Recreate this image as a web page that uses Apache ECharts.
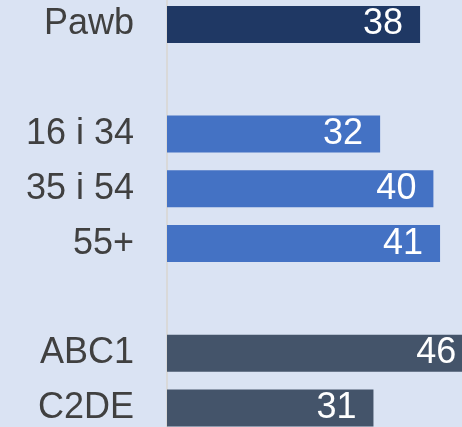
<!DOCTYPE html>
<html>
<head>
<meta charset="utf-8">
<script src="https://cdn.jsdelivr.net/npm/echarts@6/dist/echarts.min.js"></script>
<style>
  html, body { margin: 0; padding: 0; background: #dae3f3; }
  #chart { width: 462px; height: 427px; }
</style>
</head>
<body>
<div id="chart"></div>
<script>
const categories = ['Pawb', '', '16 i 34', '35 i 54', '55+', '', 'ABC1', 'C2DE'];
const values = [38, null, 32, 40, 41, null, 46, 31];
const barColors = ['#1f3864', null, '#4472c4', '#4472c4', '#4472c4', null, '#44546a', '#44546a'];

const chart = echarts.init(document.getElementById('chart'));

// grid runs past the canvas on purpose so the 46 bar is cut by the page edge
const option = {
  backgroundColor: '#dae3f3',
  animation: false,
  grid: { left: 167, top: -3, width: 333, height: 438.4, containLabel: false, outerBoundsMode: 'none' },
  xAxis: {
    type: 'value',
    min: 0,
    max: 50,
    show: false
  },
  yAxis: {
    type: 'category',
    data: categories,
    inverse: true,
    axisLine: { show: true, lineStyle: { color: '#d9d9d9', width: 2 } },
    axisTick: { show: false },
    axisLabel: {
      margin: 33,
      color: '#404040',
      fontSize: 36,
      fontFamily: 'Liberation Sans, Arial, sans-serif'
    }
  },
  series: [{
    type: 'bar',
    data: values.map((v, i) => v == null ? null : { value: v, itemStyle: { color: barColors[i] } }),
    barWidth: 37,
    label: {
      show: true,
      position: 'insideRight',
      distance: 17,
      color: '#ffffff',
      fontSize: 36,
      fontFamily: 'Liberation Sans, Arial, sans-serif'
    }
  }]
};

chart.setOption(option);
</script>
</body>
</html>
